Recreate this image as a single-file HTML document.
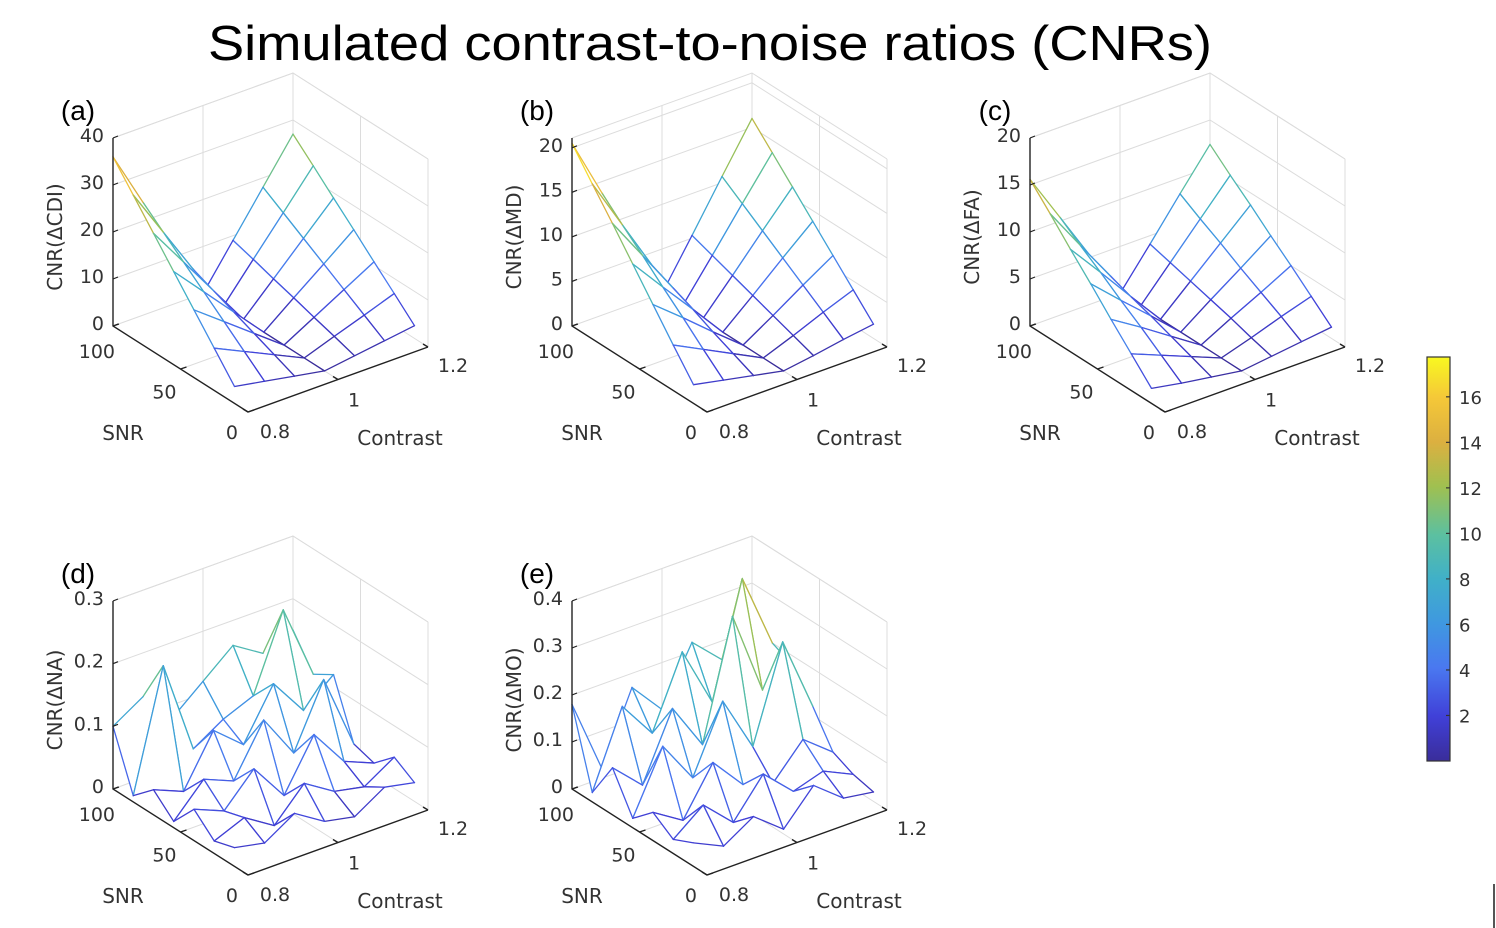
<!DOCTYPE html>
<html><head><meta charset="utf-8">
<style>
html,body{margin:0;padding:0;background:#fff;}
svg{display:block;font-family:"Liberation Sans",Arial,sans-serif;}
.dv{font-family:"DejaVu Sans","Liberation Sans",sans-serif;}
</style></head>
<body>
<svg id="fig" width="1496" height="928" viewBox="0 0 1496 928" xmlns="http://www.w3.org/2000/svg">
<text x="208" y="60" font-size="49" fill="#000" textLength="1004" lengthAdjust="spacingAndGlyphs">Simulated contrast-to-noise ratios (CNRs)</text>
<g id="panels"></g>
<g id="cbar"></g>
<line x1="1494" y1="884" x2="1494" y2="928" stroke="#555" stroke-width="2"/>
</svg>
<script>
const snrValues = [10, 25, 40, 55, 70, 85, 100];
const contrastValues = [0.8, 0.8667, 0.9333, 1.0, 1.0667, 1.1333, 1.2];
const snrTicks = [0, 50, 100];
const contrastTicks = [0.8, 1, 1.2];
const contrastTickLabels = ["0.8", "1", "1.2"];
const colorbarTicks = [2, 4, 6, 8, 10, 12, 14, 16];
// rows: SNR (10..100); columns: contrast (0.8..1.2)
const dataA = [
 [3.6,2.4,1.2,0,0.9,1.8,2.7],
 [9,6,3,0,2.3,4.5,6.8],
 [14.4,9.6,4.8,0,3.6,7.2,10.8],
 [19.8,13.2,6.6,0,5,9.9,14.9],
 [25.2,16.8,8.4,0,6.3,12.6,18.9],
 [30.6,20.4,10.2,0,7.7,15.3,23],
 [36,24,12,0,9,18,27]];
const dataB = [
 [2.1,1.4,0.7,0,0.5,1.1,1.6],
 [5.1,3.4,1.7,0,1.3,2.7,4],
 [8.2,5.5,2.7,0,2.1,4.3,6.4],
 [11.3,7.5,3.8,0,2.9,5.9,8.8],
 [14.4,9.6,4.8,0,3.7,7.5,11.2],
 [17.4,11.6,5.8,0,4.5,9.1,13.6],
 [20.5,13.7,6.8,0,5.3,10.7,16]];
const dataC = [
 [1.6,1.0,0.5,0,0.4,0.8,1.2],
 [3.9,2.6,1.3,0,1.0,2.1,3.1],
 [6.2,4.2,2.1,0,1.7,3.3,5.0],
 [8.6,5.7,2.9,0,2.3,4.5,6.8],
 [10.9,7.3,3.6,0,2.9,5.8,8.7],
 [13.3,8.8,4.4,0,3.5,7.0,10.5],
 [15.6,10.4,5.2,0,4.1,8.3,12.4]];
const dataD = [
 [0.03,0.02,0.05,0.02,0.01,0.04,0.03],
 [0.02,0.04,0.01,0.06,0.03,0.02,0.05],
 [0.05,0.03,0.08,0.02,0.10,0.04,0.02],
 [0.01,0.06,0.04,0.12,0.05,0.15,0.03],
 [0.04,0.02,0.10,0.06,0.14,0.08,0.12],
 [0.01,0.20,0.05,0.08,0.10,0.22,0.10],
 [0.10,0.13,0.08,0.12,0.16,0.13,0.15]];
const dataE = [
 [0.05,0.02,0.06,0.01,0.08,0.03,0.02],
 [0.03,0.08,0.02,0.10,0.04,0.06,0.03],
 [0.06,0.02,0.12,0.05,0.03,0.10,0.05],
 [0.02,0.15,0.06,0.20,0.08,0.28,0.12],
 [0.10,0.04,0.18,0.08,0.33,0.15,0.18],
 [0.02,0.18,0.10,0.25,0.12,0.36,0.20],
 [0.18,0.02,0.17,0.10,0.22,0.16,0.24]];
const ticksA=[0,10,20,30,40], ticksB=[0,5,10,15,20], ticksC=[0,5,10,15,20], ticksD=[0,0.1,0.2,0.3], ticksE=[0,0.1,0.2,0.3,0.4];

const panels = [
 {name:"a", ox:248, oy:412, zmax:40, data:dataA, ticks:ticksA, label:"CNR(\u0394CDI)"},
 {name:"b", ox:707, oy:412, zmax:21.1, data:dataB, ticks:ticksB, label:"CNR(\u0394MD)"},
 {name:"c", ox:1165, oy:412, zmax:20, data:dataC, ticks:ticksC, label:"CNR(\u0394FA)"},
 {name:"d", ox:248, oy:875, zmax:0.3, data:dataD, ticks:ticksD, label:"CNR(\u0394NA)"},
 {name:"e", ox:707, oy:875, zmax:0.4, data:dataE, ticks:ticksE, label:"CNR(\u0394MO)"}];

const stops=[[0,[58,45,154]],[0.11,[64,64,216]],[0.23,[74,120,240]],[0.34,[63,152,224]],[0.45,[64,176,200]],[0.56,[92,192,160]],[0.68,[160,192,80]],[0.79,[220,176,64]],[0.9,[245,200,56]],[1,[248,248,32]]];
function cmap(t){t=Math.max(0,Math.min(1,t));for(let i=1;i<stops.length;i++){if(t<=stops[i][0]){const a=stops[i-1],b=stops[i];const f=(t-a[0])/(b[0]-a[0]);const c=a[1].map((v,k)=>Math.round(v+(b[1][k]-v)*f));return `rgb(${c[0]},${c[1]},${c[2]})`;}}return "rgb(248,248,32)";}

const NS="http://www.w3.org/2000/svg";
function mk(tag,attrs,parent){const e=document.createElementNS(NS,tag);for(const k in attrs)e.setAttribute(k,attrs[k]);parent.appendChild(e);return e;}

const root=document.getElementById("panels");
const cOff=[[27,26],[16,27],[25,25]];
panels.forEach(p=>{
  const g=mk("g",{},root);
  
  
  const P=(s,c,z)=>{const sf=s/100, cf=(c-0.8)/0.4;return [p.ox-135*sf+180*cf, p.oy-86*sf-65*cf-(z/p.zmax)*188];};
  const pts=a=>a.map(q=>q[0].toFixed(1)+","+q[1].toFixed(1)).join(" ");
  const grid="#dcdcdc";
  const gg=mk("g",{stroke:grid,"stroke-width":1,fill:"none"},g);
  
  
  p.ticks.forEach(t=>{
    mk("polyline",{points:pts([P(100,0.8,t),P(100,1.2,t),P(0,1.2,t)])},gg);
  });
  const top=p.zmax;
  mk("polyline",{points:pts([P(100,0.8,top),P(100,1.2,top),P(0,1.2,top)])},gg);
  [1.0,1.2].forEach(c=>mk("line",{x1:P(100,c,0)[0],y1:P(100,c,0)[1],x2:P(100,c,top)[0],y2:P(100,c,top)[1]},gg));
  [50,0].forEach(s=>mk("line",{x1:P(s,1.2,0)[0],y1:P(s,1.2,0)[1],x2:P(s,1.2,top)[0],y2:P(s,1.2,top)[1]},gg));
  mk("polyline",{points:pts([P(50,0.8,0),P(50,1.2,0)])},gg);
  mk("polyline",{points:pts([P(0,1.0,0),P(100,1.0,0)])},gg);
  const mg=mk("g",{"stroke-width":1.3,"stroke-linecap":"round"},g);
  
  
  const n=snrValues.length,m=contrastValues.length;
  const quads=[];
  for(let i=0;i<n-1;i++)for(let j=0;j<m-1;j++)quads.push([i,j]);
  quads.sort((a,b)=>(b[0]+b[1])-(a[0]+a[1]));
  const V=(i,j)=>P(snrValues[i],contrastValues[j],p.data[i][j]);
  const col=(i1,j1,i2,j2)=>cmap((p.data[i1][j1]+p.data[i2][j2])/2/p.zmax*1.05);
  quads.forEach(([i,j])=>{
    const poly=mk("polygon",{points:pts([V(i,j),V(i,j+1),V(i+1,j+1),V(i+1,j)]),fill:"#fff",stroke:"none"},mg);
    
    
    [[i,j,i,j+1],[i,j+1,i+1,j+1],[i+1,j+1,i+1,j],[i+1,j,i,j]].forEach(e=>{
      const a=V(e[0],e[1]),b=V(e[2],e[3]);
      const ln=mk("line",{x1:a[0],y1:a[1],x2:b[0],y2:b[1],stroke:col(e[0],e[1],e[2],e[3])},mg);
      
      
    });
  });
  const ag=mk("g",{stroke:"#222","stroke-width":1.4,fill:"none"},g);
  
  
  mk("polyline",{points:pts([P(100,0.8,top),P(100,0.8,0),P(0,0.8,0),P(0,1.2,0)])},ag);
  const tg=mk("g",{fill:"#333","font-size":19,class:"dv"},g);
  
  
  p.ticks.forEach(t=>{
    const q=P(100,0.8,t);
    mk("line",{x1:q[0],y1:q[1],x2:q[0]+5,y2:q[1]-2,stroke:"#222","stroke-width":1.2},ag);
    const tx=mk("text",{x:q[0]-9,y:q[1]+4,"text-anchor":"end"},tg);
    
    
    tx.textContent=String(t);
  });
  snrTicks.forEach(s=>{
    const q=P(s,0.8,0);
    mk("line",{x1:q[0],y1:q[1],x2:q[0]+6,y2:q[1]-2,stroke:"#222","stroke-width":1.4},ag);
    const tx=mk("text",{x:q[0]-10+12*(s/100),y:q[1]+27+5*(s/100),"text-anchor":"end"},tg);
    
    
    tx.textContent=String(s);
  });
  contrastTicks.forEach((c,k)=>{
    const q=P(0,c,0);
    mk("line",{x1:q[0],y1:q[1],x2:q[0]-5,y2:q[1]-3,stroke:"#222","stroke-width":1.4},ag);
    const tx=mk("text",{x:q[0]+cOff[k][0],y:q[1]+cOff[k][1],"text-anchor":"middle"},tg);
    
    
    tx.textContent=contrastTickLabels[k];
  });
  const t1=mk("text",{x:p.ox-125,y:p.oy+28,"text-anchor":"middle","font-size":20,fill:"#333",class:"dv"},g);
  
  
  t1.textContent="SNR";
  const t2=mk("text",{x:p.ox+152,y:p.oy+33,"text-anchor":"middle","font-size":20,fill:"#333",class:"dv"},g);
  
  
  t2.textContent="Contrast";
  const yl=mk("text",{x:0,y:0,"text-anchor":"middle","font-size":20,fill:"#333",class:"dv",transform:`translate(${p.ox-186},${p.oy-175}) rotate(-90)`},g);
  
  
  yl.textContent=p.label;
  const pl=mk("text",{x:p.ox-170,y:p.oy-292,"text-anchor":"middle","font-size":28,fill:"#000"},g);
  
  
  pl.textContent="("+p.name+")";
});

const cb=document.getElementById("cbar");
const cbX=1427,cbW=23,cbTop=357,cbBot=761,cbMin=0,cbMax=17.75;
const defs=mk("defs",{},cb);
const lg=mk("linearGradient",{id:"parula",x1:0,y1:1,x2:0,y2:0},defs);
stops.forEach(s=>mk("stop",{offset:s[0],"stop-color":cmap(s[0])},lg));
const rect=mk("rect",{x:cbX,y:cbTop,width:cbW,height:cbBot-cbTop,fill:"url(#parula)",stroke:"#333","stroke-width":1.2},cb);


const cy=v=>cbBot-(v-cbMin)/(cbMax-cbMin)*(cbBot-cbTop);
colorbarTicks.forEach(v=>{
  mk("line",{x1:cbX+cbW-4,y1:cy(v),x2:cbX+cbW,y2:cy(v),stroke:"#333","stroke-width":1.2},cb);
  const t=mk("text",{x:cbX+32,y:cy(v)+7,"font-size":18,fill:"#333",class:"dv"},cb);
  
  
  t.textContent=String(v);
});
</script>
</body></html>
